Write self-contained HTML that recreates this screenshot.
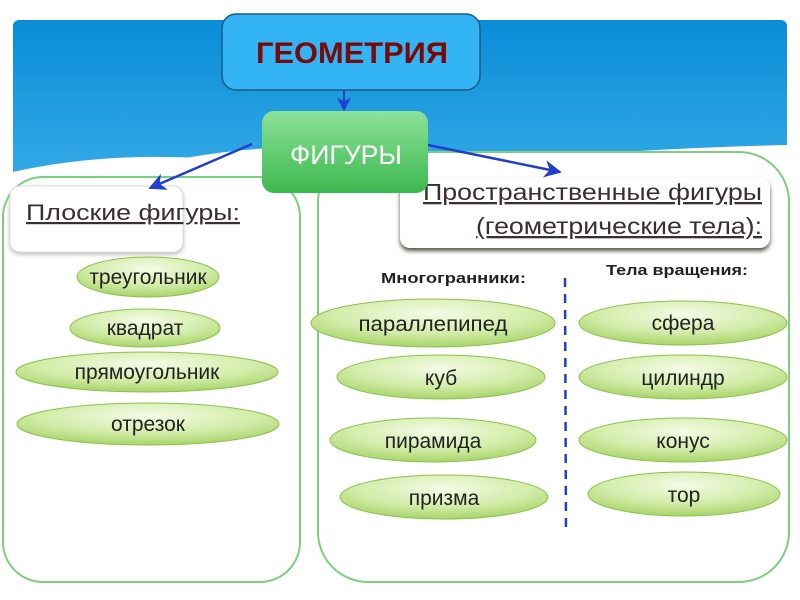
<!DOCTYPE html>
<html><head><meta charset="utf-8"><style>body{margin:0;background:#fff}svg{display:block}text{font-family:"Liberation Sans",sans-serif}</style></head><body>
<svg width="800" height="600" viewBox="0 0 800 600" xmlns="http://www.w3.org/2000/svg">
<defs>
<linearGradient id="sky" x1="0" y1="0" x2="0" y2="1"><stop offset="0" stop-color="#0a8cd8"/><stop offset="0.6" stop-color="#3aaee8"/><stop offset="1" stop-color="#cfeaf7"/></linearGradient>
<linearGradient id="grn" x1="0" y1="0" x2="0" y2="1"><stop offset="0" stop-color="#8de29a"/><stop offset="1" stop-color="#3db84f"/></linearGradient>
<radialGradient id="ell" cx="0.5" cy="0.3" r="0.7"><stop offset="0" stop-color="#f4fbe6"/><stop offset="0.6" stop-color="#d2eca8"/><stop offset="1" stop-color="#a8d46a"/></radialGradient>
<marker id="ar" viewBox="0 0 10 10" refX="9" refY="5" markerWidth="7" markerHeight="7" orient="auto"><path d="M0,0 L10,5 L0,10 L3,5z" fill="#1f3fcc"/></marker>
</defs>
<rect x="13" y="20" width="774" height="300" rx="6" fill="url(#sky)"/>
<path d="M13,172 Q120,148 250,162 Q400,152 520,160 Q650,148 787,145 L787,330 L13,330Z" fill="#fff"/>
<path d="M0,230 Q150,130 400,150 L400,600 L0,600Z" fill="#fff"/>
<rect x="3" y="177" width="297" height="405" rx="40" fill="#fff" stroke="#7ccf7c" stroke-width="2"/>
<rect x="318" y="152" width="471" height="430" rx="50" fill="#fff" stroke="#7ccf7c" stroke-width="2"/>
<rect x="10" y="186" width="173" height="66" rx="10" fill="#fff" stroke="#ddd" style="filter:drop-shadow(0 2px 2px #bbb)"/>
<text x="26" y="220" font-size="22" fill="#3a3030" text-decoration="underline" textLength="214" lengthAdjust="spacingAndGlyphs">Плоские фигуры:</text>
<rect x="400" y="178" width="370" height="70" rx="10" fill="#fff" style="filter:drop-shadow(0 3px 2px #554)"/>
<text x="423" y="200" font-size="23" fill="#3a3030" text-decoration="underline" textLength="339" lengthAdjust="spacingAndGlyphs">Пространственные фигуры</text>
<text x="476" y="234" font-size="23" fill="#3a3030" text-decoration="underline" textLength="286" lengthAdjust="spacingAndGlyphs">(геометрические тела):</text>
<rect x="222" y="14" width="258" height="76" rx="14" fill="#33b5f5" stroke="#1b5a84" stroke-width="1.5"/>
<text x="256" y="63" font-size="30" font-weight="bold" fill="#7a0a0a" textLength="192" lengthAdjust="spacingAndGlyphs">ГЕОМЕТРИЯ</text>
<line x1="344" y1="90" x2="344" y2="110" stroke="#1f3fcc" stroke-width="2" marker-end="url(#ar)"/>
<line x1="252" y1="144" x2="150" y2="188" stroke="#1f3fcc" stroke-width="2.5" marker-end="url(#ar)"/>
<line x1="428" y1="145" x2="560" y2="172" stroke="#1f3fcc" stroke-width="2.5" marker-end="url(#ar)"/>
<rect x="262" y="111" width="166" height="82" rx="12" fill="url(#grn)"/>
<text x="290" y="164" font-size="27" fill="#fff" textLength="112" lengthAdjust="spacingAndGlyphs">ФИГУРЫ</text>
<text x="381" y="283" font-size="15" font-weight="bold" fill="#222" textLength="145" lengthAdjust="spacingAndGlyphs">Многогранники:</text>
<text x="606" y="275" font-size="15" font-weight="bold" fill="#222" textLength="142" lengthAdjust="spacingAndGlyphs">Тела вращения:</text>
<line x1="565" y1="278" x2="566" y2="533" stroke="#1f3fcc" stroke-width="2.5" stroke-dasharray="9,7"/>
<g stroke="#8ac24a" stroke-width="1" fill="url(#ell)">
<ellipse cx="148" cy="277" rx="71" ry="20"/>
<ellipse cx="145" cy="328" rx="75" ry="19"/>
<ellipse cx="147" cy="372" rx="131" ry="20"/>
<ellipse cx="148" cy="424" rx="131" ry="21"/>
<ellipse cx="433" cy="323" rx="122" ry="24"/>
<ellipse cx="441" cy="377" rx="104" ry="22"/>
<ellipse cx="433" cy="440" rx="103" ry="22"/>
<ellipse cx="444" cy="497" rx="104" ry="22"/>
<ellipse cx="683" cy="323" rx="104" ry="22"/>
<ellipse cx="683" cy="377" rx="104" ry="22"/>
<ellipse cx="683" cy="440" rx="104" ry="22"/>
<ellipse cx="684" cy="494" rx="96" ry="22"/>
</g>
<g font-size="21" fill="#222" text-anchor="middle">
<text x="148" y="284">треугольник</text>
<text x="145" y="335">квадрат</text>
<text x="147" y="379">прямоугольник</text>
<text x="148" y="431">отрезок</text>
<text x="433" y="331" textLength="149" lengthAdjust="spacingAndGlyphs">параллепипед</text>
<text x="441" y="385">куб</text>
<text x="433" y="448">пирамида</text>
<text x="444" y="505">призма</text>
<text x="683" y="330">сфера</text>
<text x="683" y="385">цилиндр</text>
<text x="683" y="448">конус</text>
<text x="684" y="502">тор</text>
</g>
</svg>
</body></html>
